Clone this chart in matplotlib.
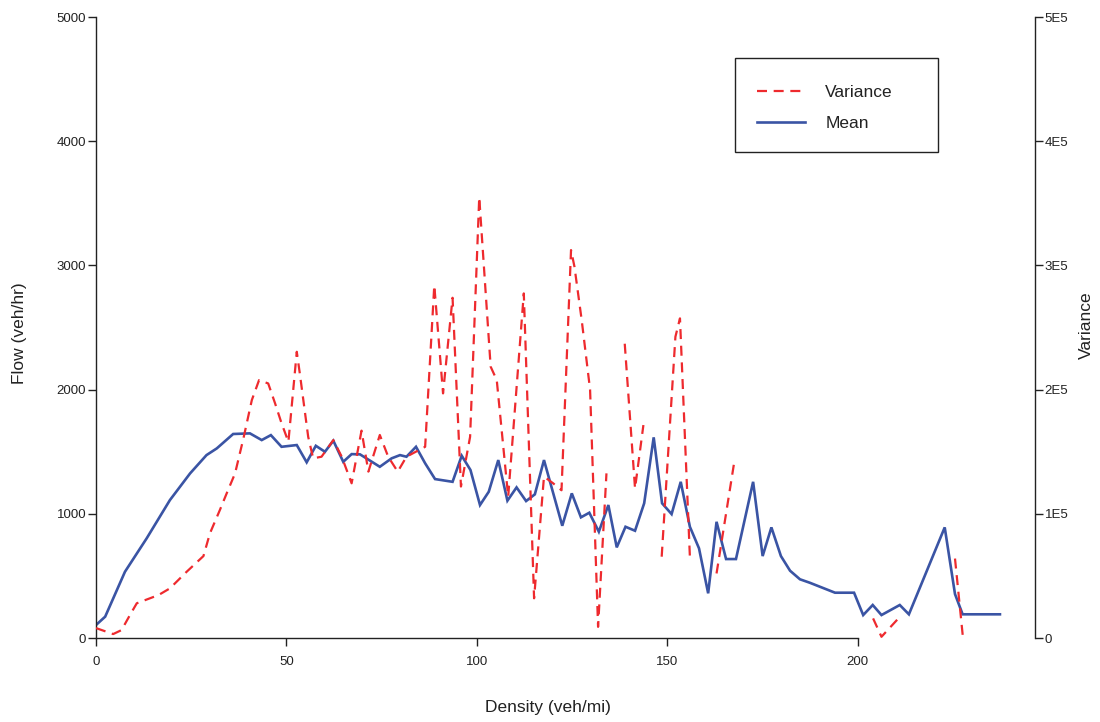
import numpy as np
import matplotlib.pyplot as plt
from matplotlib.patches import Rectangle

plt.rcParams['font.family'] = ['Liberation Sans', 'DejaVu Sans']

# -- Mean flow (veh/hr) vs density (veh/mi)
mean_x = [0, 2.4, 7.6, 13.3, 19.4, 24.7, 29.0, 31.7, 36.0, 40.4,
          43.5, 45.9, 48.7, 52.7, 55.3, 57.7, 60.1, 62.3, 64.9, 67.1,
          69.3, 74.5, 77.6, 79.8, 81.5, 84.0, 86.4, 89.0, 93.6, 96.0,
          98.3, 100.8, 103.1, 105.6, 108.0, 110.4, 112.9, 115.2, 117.6, 122.4,
          124.9, 127.3, 129.5, 132.0, 134.5, 136.7, 139.0, 141.5, 143.9, 146.4,
          148.6, 151.1, 153.5, 155.9, 158.3, 160.7, 162.9, 165.4, 168.0, 172.5,
          175.0, 177.3, 179.8, 182.2, 184.8, 187.4, 194.0, 199.0, 201.4, 203.9,
          206.2, 211.0, 213.4, 222.8, 225.5, 227.5, 237.3]
mean_flow = [105, 172, 534, 803, 1111, 1326, 1473, 1527, 1643, 1648,
             1594, 1634, 1540, 1554, 1415, 1548, 1500, 1589, 1419, 1481,
             1479, 1379, 1447, 1473, 1460, 1540, 1407, 1280, 1258, 1468,
             1353, 1071, 1178, 1433, 1106, 1213, 1103, 1157, 1433, 904,
             1165, 972, 1009, 856, 1071, 730, 896, 864, 1085, 1616,
             1085, 998, 1258, 896, 722, 360, 936, 636, 636, 1258,
             660, 891, 660, 542, 473, 445, 365, 365, 185, 266,
             185, 266, 191, 891, 354, 191, 191]

# -- Variance of flow (nan = no value)
nan = np.nan
var_x = [0, 4.5, 6.7, 8.9, 10.7, 16.4, 19.4, 23.8, 28.2, 29.9,
         32.5, 34.3, 36.5, 38.7, 40.9, 42.8, 45.2, 47.0, 48.7, 50.5,
         52.7, 53.5, 55.7, 57.0, 59.2, 62.3, 64.5, 67.1, 69.7, 71.5,
         74.5, 76.7, 79.2, 81.5, 86.4, 88.8, 91.1, 93.6, 95.8, 98.2,
         100.6, 103.6, 105.2, 108.2, 112.3, 115.0, 117.6, 120.0, 122.2, 124.7,
         125.6, 127.5, 129.7, 131.8, 134.0, 136.4, 138.8, 141.5, 143.7, 146.1,
         148.5, 152.1, 153.3, 155.9, 159.4, 162.9, 167.7, 186.0, 204.0, 206.2,
         211.0, 218.0, 225.5, 227.6]
var_val = [8000, 3200, 6400, 18500, 28000, 34600, 40000, 53400, 66000, 84300,
           103000, 116500, 132600, 160800, 191600, 207700, 205000, 189000, 173000, 158000,
           230500, 213000, 162000, 144700, 146000, 159400, 146000, 124600, 167000, 134000,
           163500, 146000, 134000, 146000, 154000, 284000, 197000, 274000, 122000, 162000,
           355000, 218500, 207700, 113800, 277500, 32000, 130000, 124600, 119000, 312400,
           299000, 256000, 200000, 9000, 132600, nan, 237000, 120500, 171500, nan,
           65500, 242600, 257400, 65500, nan, 52000, 144700, nan, 15800, 1000,
           17000, nan, 64000, 0]

RED = '#EE2A2E'
BLUE = '#3A54A4'
INK = '#222222'

fig = plt.figure(figsize=(11, 7.22), dpi=100)
ax = fig.add_axes([0.0873, 0.1163, 0.8536, 0.860])
ax2 = ax.twinx()

ax.plot(mean_x, mean_flow, color=BLUE, lw=1.9, solid_joinstyle='miter')
ax2.plot(var_x, var_val, color=RED, lw=1.6, dashes=(4.5, 3))

ax.set_xlim(0, 246.5)
ax.set_ylim(0, 5000)
ax2.set_ylim(0, 5e5)

# -- R-like axes
for a in (ax, ax2):
    a.spines['top'].set_visible(False)
    for s in a.spines.values():
        s.set_color(INK)
        s.set_linewidth(1.0)
ax.spines['right'].set_visible(False)
ax2.spines['left'].set_visible(False)
ax2.spines['bottom'].set_visible(False)
ax.spines['left'].set_bounds(0, 5000)
ax.spines['bottom'].set_bounds(0, 200)
ax2.spines['right'].set_bounds(0, 5e5)

ax.set_xticks([0, 50, 100, 150, 200])
ax.set_yticks([0, 1000, 2000, 3000, 4000, 5000])
ax2.set_yticks([0, 1e5, 2e5, 3e5, 4e5, 5e5])
ax2.set_yticklabels(['0', '1E5', '2E5', '3E5', '4E5', '5E5'])

ax.tick_params(axis='both', direction='out', length=6, width=1.0, color=INK,
               labelsize=9.5, labelcolor=INK)
ax.tick_params(axis='y', pad=1)
ax.tick_params(axis='x', pad=7)
ax2.tick_params(axis='y', direction='out', length=6, width=1.0, color=INK,
                labelsize=9.5, labelcolor=INK, pad=1)

ax.set_xlabel('Density (veh/mi)', fontsize=12.5, color=INK)
ax.set_ylabel('Flow (veh/hr)', fontsize=12.5, color=INK)
ax2.set_ylabel('Variance', fontsize=12.5, color=INK)
ax.xaxis.set_label_coords(0.481, -0.100)
ax.yaxis.set_label_coords(-0.0735, 0.491)
ax2.yaxis.set_label_coords(1.047, 0.504)

# -- legend with a square box
h1, = ax.plot([], [], color=RED, lw=1.6, dashes=(4.5, 3))
h2, = ax.plot([], [], color=BLUE, lw=1.9)
fig.patches.append(Rectangle((735 / 1100, 1 - 152 / 722), 203 / 1100, 94 / 722,
                             transform=fig.transFigure, fill=False,
                             edgecolor=INK, lw=1.0, zorder=5))
fig.legend([h1, h2], ['Variance', 'Mean'], loc='center left',
           bbox_to_anchor=(741 / 1100, 1 - 108 / 722), frameon=False,
           fontsize=12.5, handlelength=2.8, handletextpad=1.15,
           labelspacing=0.95, labelcolor=INK)

fig.savefig('out.png', dpi=100)
